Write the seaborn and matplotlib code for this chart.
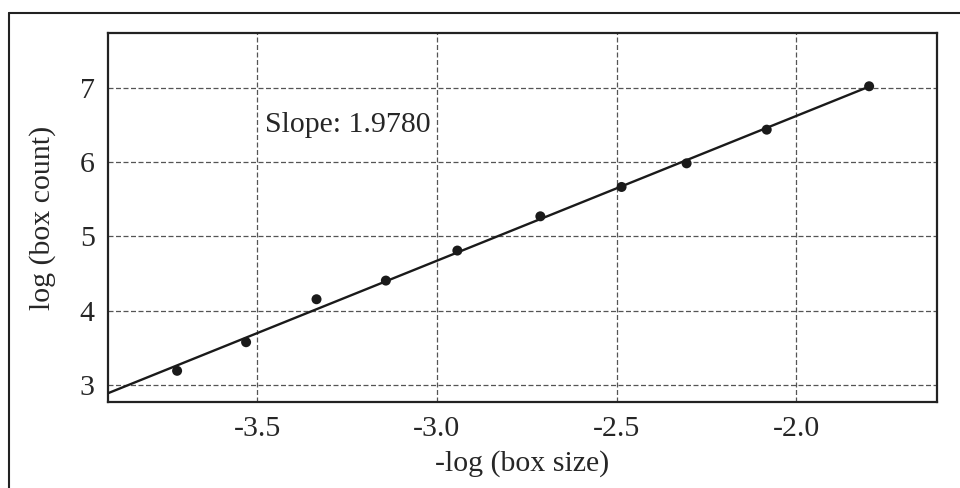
import numpy as np
import pandas as pd
import seaborn as sns
import matplotlib.pyplot as plt
from matplotlib.lines import Line2D

# values
neg_log_size = [-3.723, -3.531, -3.335, -3.142, -2.943, -2.712, -2.486, -2.305, -2.082, -1.797]
log_count = [3.19, 3.575, 4.153, 4.404, 4.808, 5.269, 5.664, 5.982, 6.435, 7.019]
slope_label = 'Slope: 1.9780'
x_ticks = [-3.5, -3.0, -2.5, -2.0]
y_ticks = [3, 4, 5, 6, 7]

df = pd.DataFrame({'x': neg_log_size, 'y': log_count})

sns.set_style('white')
plt.rcParams['font.family'] = ['Liberation Serif', 'DejaVu Serif']

fig = plt.figure(figsize=(9.6, 4.88), dpi=100)
ax = fig.add_axes([0.113, 0.1762, 0.8627, 0.7562])

xlim = (-3.914, -1.609)
ylim = (2.77, 7.736)
fs = 21.5

# fitted line from left edge to last point
k, b = np.polyfit(df['x'], df['y'], 1)
fit = pd.DataFrame({'x': [xlim[0], df['x'].max()]})
fit['y'] = k * fit['x'] + b
sns.lineplot(data=fit, x='x', y='y', color='#1a1a1a', linewidth=1.7, ax=ax, zorder=3)
sns.scatterplot(data=df, x='x', y='y', color='#1a1a1a', s=52, edgecolor='none', ax=ax, zorder=4)

ax.set_xlim(xlim)
ax.set_ylim(ylim)
ax.set_xticks(x_ticks)
ax.set_xticklabels([f'{t:.1f}' for t in x_ticks])
ax.set_yticks(y_ticks)
ax.grid(True, linestyle=(0, (4, 2)), color='#555555', linewidth=0.9)
ax.tick_params(axis='x', length=0, pad=10, labelsize=fs)
ax.tick_params(axis='y', length=0, pad=10, labelsize=fs)
for sp in ax.spines.values():
    sp.set_linewidth(1.6)
    sp.set_color('#222222')

ax.set_xlabel('-log (box size)', fontsize=fs, labelpad=6)
ax.set_ylabel('log (box count)', fontsize=fs, labelpad=17)
ax.text(-3.479, 6.5, slope_label, fontsize=fs, va='center', ha='left')

# partial frame around the figure (top and left only)
fig.add_artist(Line2D([8.5 / 960, 1.0], [1 - 12.5 / 488] * 2, color='#222222', linewidth=1.5))
fig.add_artist(Line2D([8.5 / 960] * 2, [0.0, 1 - 12.5 / 488], color='#222222', linewidth=1.5))

fig.savefig('out.png', dpi=100)
